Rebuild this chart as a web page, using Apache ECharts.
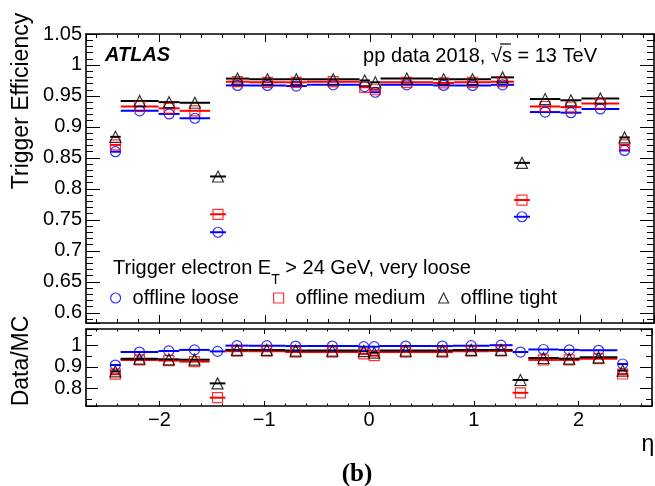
<!DOCTYPE html>
<html><head><meta charset="utf-8">
<script src="https://cdn.jsdelivr.net/npm/echarts@6/dist/echarts.min.js"></script>
<style>html,body{margin:0;padding:0;background:#fff}#c{width:655px;height:486px}</style>
</head><body><div id="c"></div>
<script>
// eta bin edges (20 bins)
const etaEdges = [-2.47,-2.37,-2.01,-1.81,-1.52,-1.37,-1.15,-0.8,-0.6,-0.1,0,0.1,0.6,0.8,1.15,1.37,1.52,1.81,2.01,2.37,2.47];
// Trigger efficiency (top panel)
const effLoose  = [0.860,0.926,0.921,0.914,0.730,0.967,0.967,0.966,0.968,0.965,0.956,0.968,0.967,0.967,0.968,0.755,0.924,0.923,0.929,0.862];
const effMedium = [0.871,0.933,0.930,0.926,0.759,0.973,0.972,0.972,0.973,0.964,0.960,0.972,0.971,0.972,0.973,0.782,0.933,0.932,0.938,0.871];
const effTight  = [0.884,0.942,0.940,0.939,0.820,0.978,0.977,0.977,0.977,0.975,0.972,0.978,0.977,0.977,0.980,0.842,0.945,0.943,0.946,0.883];
// Data/MC (bottom panel)
const sfLoose  = [0.909,0.970,0.975,0.980,0.973,1.000,1.000,0.998,0.998,0.995,0.995,0.998,0.998,1.000,1.002,0.970,0.982,0.980,0.978,0.914];
const sfMedium = [0.866,0.933,0.930,0.925,0.756,0.974,0.974,0.970,0.970,0.961,0.953,0.970,0.970,0.974,0.975,0.779,0.933,0.933,0.939,0.867];
const sfTight  = [0.879,0.939,0.936,0.934,0.823,0.980,0.980,0.977,0.977,0.974,0.967,0.977,0.977,0.980,0.980,0.839,0.942,0.939,0.945,0.883];
// tick labels
const xTickLabels = [-2,-1,0,1,2];
const yTickLabelsTop = [0.6,0.65,0.7,0.75,0.8,0.85,0.9,0.95,1,1.05];
const yTickLabelsBottom = [0.8,0.9,1];
const seriesNames = ['offline loose','offline medium','offline tight'];

const FONT = 'Liberation Sans';
const BLUE = '#0000ff', RED = '#ff0000', BLACK = '#000000';

function barData(vals){ return vals.map((v,i)=>[etaEdges[i], etaEdges[i+1], v]); }
function ptData(vals){ return vals.map((v,i)=>[(etaEdges[i]+etaEdges[i+1])/2, v]); }
function inList(list){ return v => list.some(t=>Math.abs(t-v)<1e-6); }
function fmtNum(v){ const s = String(Math.round(v*1000)/1000); return v<0 ? '\u2212'+s.slice(1) : s; }

function barRender(color){
  return function(params, api){
    const p1 = api.coord([api.value(0), api.value(2)]);
    const p2 = api.coord([api.value(1), api.value(2)]);
    return {type:'line', shape:{x1:p1[0],y1:p1[1],x2:p2[0],y2:p2[1]}, style:{stroke:color, lineWidth:2}};
  };
}

const axLine = {show:true, onZero:false, lineStyle:{color:'#000', width:1.6}};
function xAx(gridIndex, position, showLabel, tickLen){
  return {type:'value', gridIndex, position, min:-2.7, max:2.7, splitNumber:5,
    axisLine:axLine, splitLine:{show:false},
    axisTick:{show:true, inside:true, length:tickLen, lineStyle:{color:'#000', width:1}},
    minorTick:{show:true, splitNumber:5, length:tickLen/2, lineStyle:{color:'#000', width:1}},
    axisLabel:{show:showLabel, margin:4, fontSize:20, fontFamily:FONT, color:'#000',
      formatter: v => inList(xTickLabels)(v) ? fmtNum(v) : ''}};
}
function yAx(gridIndex, position, min, max, splitNumber, minorSplit, labels, tickLen){
  return {type:'value', gridIndex, position, min, max, splitNumber, scale:true,
    axisLine:axLine, splitLine:{show:false},
    axisTick:{show:true, inside:true, length:tickLen, lineStyle:{color:'#000', width:1}},
    minorTick:{show:true, splitNumber:minorSplit, length:tickLen/2, lineStyle:{color:'#000', width:1}},
    axisLabel:{show: position==='left', margin:4, fontSize:20, fontFamily:FONT, color:'#000',
      showMinLabel:false, showMaxLabel: labels[labels.length-1] >= max-1e-6,
      formatter: v => inList(labels)(v) ? fmtNum(v) : ''}};
}

const chart = echarts.init(document.getElementById('c'), null, {renderer:'canvas'});
const series = [];
const panels = [
  {x:0, y:0, vals:[effLoose, effMedium, effTight]},
  {x:2, y:2, vals:[sfLoose, sfMedium, sfTight]}
];
const colors = [BLUE, RED, BLACK];
const symbols = ['circle','rect','triangle'];
const sizes = [10, 10, 11];
panels.forEach(p=>{
  p.vals.forEach((vals,k)=>{
    series.push({type:'custom', name:seriesNames[k]+' bins'+p.x, xAxisIndex:p.x, yAxisIndex:p.y,
      renderItem:barRender(colors[k]), data:barData(vals), encode:{x:[0,1], y:2}, clip:true, silent:true, z:2});
  });
  p.vals.forEach((vals,k)=>{
    series.push({type:'scatter', name:seriesNames[k], xAxisIndex:p.x, yAxisIndex:p.y,
      symbol:symbols[k], symbolSize:sizes[k], data:ptData(vals), silent:true, z:3,
      itemStyle:{color:'rgba(0,0,0,0)', borderColor:colors[k], borderWidth:1.2}});
  });
});

function legendItem(k, left){
  return {left, top:288, padding:0, itemWidth:10, itemHeight:10, selectedMode:false,
    textStyle:{fontSize:20, fontFamily:FONT, color:'#000', padding:[0,0,0,7]},
    data:[{name:seriesNames[k], icon:symbols[k],
      itemStyle:{color:'rgba(0,0,0,0)', borderColor:colors[k], borderWidth:1.2}}]};
}

chart.setOption({
  animation:false,
  backgroundColor:'#fff',
  grid:[
    {left:86, top:34, width:568, height:289, containLabel:false},
    {left:86, top:329, width:568, height:77, containLabel:false}
  ],
  xAxis:[ xAx(0,'bottom',false,8), xAx(0,'top',false,8), xAx(1,'bottom',true,5), xAx(1,'top',false,5) ],
  yAxis:[
    yAx(0,'left',0.5835,1.05,9,5,yTickLabelsTop,14),
    yAx(0,'right',0.5835,1.05,9,5,yTickLabelsTop,14),
    yAx(1,'left',0.717,1.078,4,2,yTickLabelsBottom,12),
    yAx(1,'right',0.717,1.078,4,2,yTickLabelsBottom,12)
  ],
  legend:[ legendItem(0,110), legendItem(1,273), legendItem(2,438) ],
  series,
  graphic:[
    {type:'text', x:22, y:101, rotation:Math.PI/2, style:{text:'Trigger Efficiency', fontSize:23, fontFamily:FONT, fill:'#000', align:'center', verticalAlign:'middle'}},
    {type:'text', x:22, y:361, rotation:Math.PI/2, style:{text:'Data/MC', fontSize:23, fontFamily:FONT, fill:'#000', align:'center', verticalAlign:'middle'}},
    {type:'text', x:648, y:445, style:{text:'\u03b7', fontSize:23, fontFamily:FONT, fill:'#000', align:'center', verticalAlign:'middle'}},
    {type:'text', x:357, y:475, style:{text:'(b)', fontSize:25, fontWeight:'bold', fontFamily:'Liberation Serif', fill:'#000', align:'center', verticalAlign:'middle'}},
    {type:'text', x:105, y:55, style:{text:'ATLAS', fontSize:20, fontWeight:'bold', fontStyle:'italic', fontFamily:FONT, fill:'#000', align:'left', verticalAlign:'middle'}},
    {type:'text', x:597, y:56, style:{text:'pp data 2018, \u221as = 13 TeV', fontSize:20, fontFamily:FONT, fill:'#000', align:'right', verticalAlign:'middle'}},
    {type:'line', shape:{x1:500, y1:44, x2:511, y2:44}, style:{stroke:'#000', lineWidth:1.2}},
    {type:'text', x:113, y:258, style:{
      text:'{a|Trigger electron E}{s|T}{a| > 24 GeV, very loose}', fontFamily:FONT, fill:'#000', align:'left', verticalAlign:'top',
      rich:{a:{fontSize:20, lineHeight:24, verticalAlign:'top', fontFamily:FONT}, s:{fontSize:14, lineHeight:16, padding:[15,0,0,0], verticalAlign:'top', fontFamily:FONT}}}}
  ]
});
</script></body></html>
